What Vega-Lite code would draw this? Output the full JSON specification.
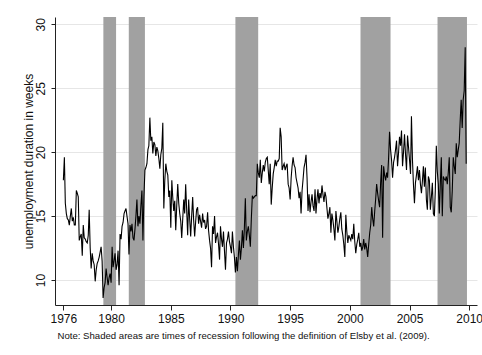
{
"$schema": "https://vega.github.io/schema/vega-lite/v6.json",
"width": 422, "height": 288,
"autosize": {"type": "none"},
"padding": {"left": 55, "top": 17, "right": 5, "bottom": 50},
"background": "white",
"config": {"view": {"stroke": null}, "font": "Liberation Sans"},
"datasets": {
"rec": [
{"s":"1979-05-09","e":"1980-06-01"},
{"s":"1981-06-25","e":"1982-11-01"},
{"s":"1990-06-01","e":"1992-04-28"},
{"s":"2000-11-23","e":"2003-05-31"},
{"s":"2007-05-08","e":"2009-10-25"}
],
"ue": [
{"d":"1976-01","v":17.8},{"d":"1976-02","v":19.6},{"d":"1976-03","v":16.0},{"d":"1976-04","v":15.2},{"d":"1976-05","v":14.8},{"d":"1976-06","v":14.7},{"d":"1976-07","v":14.3},{"d":"1976-08","v":15.0},{"d":"1976-09","v":15.6},{"d":"1976-10","v":14.6},{"d":"1976-11","v":14.9},{"d":"1976-12","v":14.3},
{"d":"1977-01","v":14.3},{"d":"1977-02","v":17.0},{"d":"1977-03","v":16.8},{"d":"1977-04","v":16.5},{"d":"1977-05","v":13.1},{"d":"1977-06","v":13.4},{"d":"1977-07","v":13.6},{"d":"1977-08","v":11.9},{"d":"1977-09","v":14.3},{"d":"1977-10","v":13.3},{"d":"1977-11","v":13.2},{"d":"1977-12","v":13.0},
{"d":"1978-01","v":12.9},{"d":"1978-02","v":13.5},{"d":"1978-03","v":15.5},{"d":"1978-04","v":12.5},{"d":"1978-05","v":10.9},{"d":"1978-06","v":12.1},{"d":"1978-07","v":11.5},{"d":"1978-08","v":11.2},{"d":"1978-09","v":9.9},{"d":"1978-10","v":10.8},{"d":"1978-11","v":11.3},{"d":"1978-12","v":11.5},
{"d":"1979-01","v":11.8},{"d":"1979-02","v":12.2},{"d":"1979-03","v":12.6},{"d":"1979-04","v":11.5},{"d":"1979-05","v":8.6},{"d":"1979-06","v":9.4},{"d":"1979-07","v":9.8},{"d":"1979-08","v":10.9},{"d":"1979-09","v":10.2},{"d":"1979-10","v":9.6},{"d":"1979-11","v":10.2},{"d":"1979-12","v":10.5},
{"d":"1980-01","v":9.8},{"d":"1980-02","v":12.6},{"d":"1980-03","v":11.0},{"d":"1980-04","v":11.5},{"d":"1980-05","v":12.1},{"d":"1980-06","v":10.8},{"d":"1980-07","v":11.2},{"d":"1980-08","v":12.3},{"d":"1980-09","v":9.6},{"d":"1980-10","v":13.6},{"d":"1980-11","v":13.2},{"d":"1980-12","v":14.2},
{"d":"1981-01","v":14.5},{"d":"1981-02","v":15.2},{"d":"1981-03","v":15.4},{"d":"1981-04","v":15.6},{"d":"1981-05","v":15.0},{"d":"1981-06","v":14.4},{"d":"1981-07","v":12.0},{"d":"1981-08","v":14.3},{"d":"1981-09","v":13.8},{"d":"1981-10","v":14.4},{"d":"1981-11","v":13.3},{"d":"1981-12","v":13.1},
{"d":"1982-01","v":14.0},{"d":"1982-02","v":15.1},{"d":"1982-03","v":16.3},{"d":"1982-04","v":14.2},{"d":"1982-05","v":15.0},{"d":"1982-06","v":14.4},{"d":"1982-07","v":15.8},{"d":"1982-08","v":17.0},{"d":"1982-09","v":13.1},{"d":"1982-10","v":16.5},{"d":"1982-11","v":18.6},{"d":"1982-12","v":18.8},
{"d":"1983-01","v":19.1},{"d":"1983-02","v":20.2},{"d":"1983-03","v":20.5},{"d":"1983-04","v":22.7},{"d":"1983-05","v":20.9},{"d":"1983-06","v":21.2},{"d":"1983-07","v":19.9},{"d":"1983-08","v":20.8},{"d":"1983-09","v":20.6},{"d":"1983-10","v":19.7},{"d":"1983-11","v":20.4},{"d":"1983-12","v":20.1},
{"d":"1984-01","v":19.5},{"d":"1984-02","v":18.7},{"d":"1984-03","v":19.8},{"d":"1984-04","v":20.3},{"d":"1984-05","v":22.3},{"d":"1984-06","v":15.6},{"d":"1984-07","v":17.8},{"d":"1984-08","v":19.1},{"d":"1984-09","v":18.5},{"d":"1984-10","v":18.2},{"d":"1984-11","v":16.5},{"d":"1984-12","v":17.0},
{"d":"1985-01","v":14.1},{"d":"1985-02","v":17.8},{"d":"1985-03","v":16.5},{"d":"1985-04","v":15.4},{"d":"1985-05","v":16.2},{"d":"1985-06","v":13.9},{"d":"1985-07","v":15.8},{"d":"1985-08","v":17.5},{"d":"1985-09","v":16.0},{"d":"1985-10","v":15.2},{"d":"1985-11","v":14.6},{"d":"1985-12","v":13.3},
{"d":"1986-01","v":14.8},{"d":"1986-02","v":16.3},{"d":"1986-03","v":15.2},{"d":"1986-04","v":17.5},{"d":"1986-05","v":15.5},{"d":"1986-06","v":13.5},{"d":"1986-07","v":16.3},{"d":"1986-08","v":14.8},{"d":"1986-09","v":13.4},{"d":"1986-10","v":15.0},{"d":"1986-11","v":16.5},{"d":"1986-12","v":14.7},
{"d":"1987-01","v":13.4},{"d":"1987-02","v":14.6},{"d":"1987-03","v":15.5},{"d":"1987-04","v":15.7},{"d":"1987-05","v":14.4},{"d":"1987-06","v":15.1},{"d":"1987-07","v":14.6},{"d":"1987-08","v":14.1},{"d":"1987-09","v":15.2},{"d":"1987-10","v":14.5},{"d":"1987-11","v":14.7},{"d":"1987-12","v":14.0},
{"d":"1988-01","v":14.2},{"d":"1988-02","v":15.3},{"d":"1988-03","v":13.9},{"d":"1988-04","v":13.1},{"d":"1988-05","v":12.5},{"d":"1988-06","v":11.0},{"d":"1988-07","v":14.2},{"d":"1988-08","v":13.6},{"d":"1988-09","v":15.0},{"d":"1988-10","v":12.9},{"d":"1988-11","v":13.4},{"d":"1988-12","v":13.7},
{"d":"1989-01","v":12.8},{"d":"1989-02","v":11.6},{"d":"1989-03","v":14.2},{"d":"1989-04","v":13.2},{"d":"1989-05","v":12.6},{"d":"1989-06","v":13.8},{"d":"1989-07","v":12.3},{"d":"1989-08","v":10.8},{"d":"1989-09","v":12.9},{"d":"1989-10","v":13.2},{"d":"1989-11","v":13.8},{"d":"1989-12","v":13.0},
{"d":"1990-01","v":12.6},{"d":"1990-02","v":12.1},{"d":"1990-03","v":13.8},{"d":"1990-04","v":12.6},{"d":"1990-05","v":11.8},{"d":"1990-06","v":10.6},{"d":"1990-07","v":11.8},{"d":"1990-08","v":10.7},{"d":"1990-09","v":12.0},{"d":"1990-10","v":13.1},{"d":"1990-11","v":11.6},{"d":"1990-12","v":12.5},
{"d":"1991-01","v":13.9},{"d":"1991-02","v":12.5},{"d":"1991-03","v":14.0},{"d":"1991-04","v":16.4},{"d":"1991-05","v":13.1},{"d":"1991-06","v":13.8},{"d":"1991-07","v":14.2},{"d":"1991-08","v":13.5},{"d":"1991-09","v":12.6},{"d":"1991-10","v":14.8},{"d":"1991-11","v":16.6},{"d":"1991-12","v":16.4},
{"d":"1992-01","v":16.5},{"d":"1992-02","v":16.6},{"d":"1992-03","v":16.6},{"d":"1992-04","v":19.1},{"d":"1992-05","v":18.4},{"d":"1992-06","v":18.0},{"d":"1992-07","v":19.4},{"d":"1992-08","v":17.6},{"d":"1992-09","v":18.4},{"d":"1992-10","v":19.0},{"d":"1992-11","v":18.5},{"d":"1992-12","v":19.2},
{"d":"1993-01","v":19.5},{"d":"1993-02","v":19.6},{"d":"1993-03","v":18.6},{"d":"1993-04","v":17.5},{"d":"1993-05","v":19.1},{"d":"1993-06","v":15.9},{"d":"1993-07","v":17.2},{"d":"1993-08","v":18.3},{"d":"1993-09","v":18.8},{"d":"1993-10","v":19.4},{"d":"1993-11","v":18.9},{"d":"1993-12","v":19.3},
{"d":"1994-01","v":19.3},{"d":"1994-02","v":19.5},{"d":"1994-03","v":21.9},{"d":"1994-04","v":21.2},{"d":"1994-05","v":18.6},{"d":"1994-06","v":18.9},{"d":"1994-07","v":19.1},{"d":"1994-08","v":18.6},{"d":"1994-09","v":18.9},{"d":"1994-10","v":19.1},{"d":"1994-11","v":17.5},{"d":"1994-12","v":17.2},
{"d":"1995-01","v":16.3},{"d":"1995-02","v":18.0},{"d":"1995-03","v":18.9},{"d":"1995-04","v":19.6},{"d":"1995-05","v":19.0},{"d":"1995-06","v":18.8},{"d":"1995-07","v":18.0},{"d":"1995-08","v":17.6},{"d":"1995-09","v":17.2},{"d":"1995-10","v":16.4},{"d":"1995-11","v":16.9},{"d":"1995-12","v":15.2},
{"d":"1996-01","v":17.0},{"d":"1996-02","v":17.9},{"d":"1996-03","v":18.8},{"d":"1996-04","v":19.2},{"d":"1996-05","v":19.8},{"d":"1996-06","v":18.0},{"d":"1996-07","v":15.4},{"d":"1996-08","v":16.7},{"d":"1996-09","v":15.3},{"d":"1996-10","v":16.1},{"d":"1996-11","v":16.7},{"d":"1996-12","v":15.8},
{"d":"1997-01","v":15.4},{"d":"1997-02","v":17.1},{"d":"1997-03","v":15.2},{"d":"1997-04","v":16.3},{"d":"1997-05","v":17.1},{"d":"1997-06","v":16.0},{"d":"1997-07","v":16.8},{"d":"1997-08","v":16.4},{"d":"1997-09","v":17.4},{"d":"1997-10","v":16.7},{"d":"1997-11","v":16.1},{"d":"1997-12","v":16.9},
{"d":"1998-01","v":16.5},{"d":"1998-02","v":15.6},{"d":"1998-03","v":14.8},{"d":"1998-04","v":15.2},{"d":"1998-05","v":15.7},{"d":"1998-06","v":13.7},{"d":"1998-07","v":15.2},{"d":"1998-08","v":14.7},{"d":"1998-09","v":14.0},{"d":"1998-10","v":13.1},{"d":"1998-11","v":15.4},{"d":"1998-12","v":14.6},
{"d":"1999-01","v":13.7},{"d":"1999-02","v":14.2},{"d":"1999-03","v":14.8},{"d":"1999-04","v":15.3},{"d":"1999-05","v":14.0},{"d":"1999-06","v":13.5},{"d":"1999-07","v":12.8},{"d":"1999-08","v":11.8},{"d":"1999-09","v":15.1},{"d":"1999-10","v":13.8},{"d":"1999-11","v":12.9},{"d":"1999-12","v":13.5},
{"d":"2000-01","v":13.3},{"d":"2000-02","v":13.1},{"d":"2000-03","v":13.6},{"d":"2000-04","v":13.2},{"d":"2000-05","v":14.4},{"d":"2000-06","v":13.0},{"d":"2000-07","v":12.1},{"d":"2000-08","v":12.8},{"d":"2000-09","v":13.2},{"d":"2000-10","v":13.7},{"d":"2000-11","v":12.6},{"d":"2000-12","v":12.9},
{"d":"2001-01","v":12.3},{"d":"2001-02","v":12.6},{"d":"2001-03","v":13.2},{"d":"2001-04","v":12.4},{"d":"2001-05","v":12.9},{"d":"2001-06","v":12.5},{"d":"2001-07","v":11.8},{"d":"2001-08","v":12.8},{"d":"2001-09","v":13.7},{"d":"2001-10","v":14.3},{"d":"2001-11","v":15.7},{"d":"2001-12","v":14.8},
{"d":"2002-01","v":14.2},{"d":"2002-02","v":15.4},{"d":"2002-03","v":16.3},{"d":"2002-04","v":17.5},{"d":"2002-05","v":16.8},{"d":"2002-06","v":16.2},{"d":"2002-07","v":15.7},{"d":"2002-08","v":17.6},{"d":"2002-09","v":19.0},{"d":"2002-10","v":13.3},{"d":"2002-11","v":18.9},{"d":"2002-12","v":18.2},
{"d":"2003-01","v":17.8},{"d":"2003-02","v":18.4},{"d":"2003-03","v":18.0},{"d":"2003-04","v":19.5},{"d":"2003-05","v":21.6},{"d":"2003-06","v":20.2},{"d":"2003-07","v":19.4},{"d":"2003-08","v":18.0},{"d":"2003-09","v":19.2},{"d":"2003-10","v":19.6},{"d":"2003-11","v":20.2},{"d":"2003-12","v":20.9},
{"d":"2004-01","v":18.9},{"d":"2004-02","v":20.0},{"d":"2004-03","v":21.2},{"d":"2004-04","v":20.5},{"d":"2004-05","v":21.7},{"d":"2004-06","v":18.9},{"d":"2004-07","v":20.0},{"d":"2004-08","v":21.4},{"d":"2004-09","v":19.8},{"d":"2004-10","v":18.6},{"d":"2004-11","v":21.3},{"d":"2004-12","v":20.4},
{"d":"2005-01","v":19.4},{"d":"2005-02","v":18.3},{"d":"2005-03","v":22.8},{"d":"2005-04","v":19.4},{"d":"2005-05","v":17.5},{"d":"2005-06","v":16.0},{"d":"2005-07","v":17.6},{"d":"2005-08","v":18.2},{"d":"2005-09","v":18.9},{"d":"2005-10","v":17.8},{"d":"2005-11","v":18.6},{"d":"2005-12","v":17.5},
{"d":"2006-01","v":16.8},{"d":"2006-02","v":17.8},{"d":"2006-03","v":18.9},{"d":"2006-04","v":17.3},{"d":"2006-05","v":18.8},{"d":"2006-06","v":16.3},{"d":"2006-07","v":15.5},{"d":"2006-08","v":18.1},{"d":"2006-09","v":17.8},{"d":"2006-10","v":15.5},{"d":"2006-11","v":16.5},{"d":"2006-12","v":17.6},
{"d":"2007-01","v":15.2},{"d":"2007-02","v":15.0},{"d":"2007-03","v":17.0},{"d":"2007-04","v":20.5},{"d":"2007-05","v":18.5},{"d":"2007-06","v":17.5},{"d":"2007-07","v":15.2},{"d":"2007-08","v":17.5},{"d":"2007-09","v":19.6},{"d":"2007-10","v":15.0},{"d":"2007-11","v":18.1},{"d":"2007-12","v":17.9},
{"d":"2008-01","v":17.8},{"d":"2008-02","v":18.1},{"d":"2008-03","v":17.5},{"d":"2008-04","v":18.4},{"d":"2008-05","v":19.6},{"d":"2008-06","v":15.7},{"d":"2008-07","v":15.3},{"d":"2008-08","v":17.0},{"d":"2008-09","v":19.6},{"d":"2008-10","v":18.9},{"d":"2008-11","v":18.3},{"d":"2008-12","v":20.7},
{"d":"2009-01","v":19.6},{"d":"2009-02","v":20.2},{"d":"2009-03","v":20.7},{"d":"2009-04","v":22.5},{"d":"2009-05","v":24.1},{"d":"2009-06","v":21.9},{"d":"2009-07","v":24.1},{"d":"2009-08","v":24.8},{"d":"2009-09","v":28.2},{"d":"2009-10","v":19.1}
]
},
"layer": [
{
"data": {"name": "rec"},
"mark": {"type": "rect", "color": "#a1a1a1"},
"encoding": {
"x": {"field": "s", "type": "temporal", "scale": {"type": "utc", "domain": [{"year":1975,"month":4,"date":20,"utc":true},{"year":2010,"month":8,"date":28,"utc":true}]}},
"x2": {"field": "e"}
}
},
{
"data": {"name": "ue"},
"mark": {"type": "line", "color": "black", "strokeWidth": 1.1},
"encoding": {
"x": {"field": "d", "type": "temporal",
"scale": {"type": "utc", "domain": [{"year":1975,"month":4,"date":20,"utc":true},{"year":2010,"month":8,"date":28,"utc":true}]},
"axis": {"values": [{"year":1976,"utc":true},{"year":1980,"utc":true},{"year":1985,"utc":true},{"year":1990,"utc":true},{"year":1995,"utc":true},{"year":2000,"utc":true},{"year":2005,"utc":true},{"year":2010,"utc":true}],
"format": "%Y", "grid": false, "zindex": 1, "tickSize": 5, "labelPadding": 3, "labelFontSize": 12, "labelColor": "#111", "labelFlush": false, "labelOverlap": false,
"domainColor": "#222", "tickColor": "#222",
"title": "Note: Shaded areas are times of recession following the definition of Elsby et al. (2009).",
"titleFontSize": 9.6, "titleFontWeight": "normal", "titleColor": "#111", "titleX": 2, "titleY": 33, "titleAlign": "left", "titleBaseline": "alphabetic"}},
"y": {"field": "v", "type": "quantitative",
"scale": {"domain": [8.05, 30.57], "nice": false, "zero": false},
"axis": {"values": [10, 15, 20, 25, 30], "grid": true, "gridColor": "#e6e6e6", "tickSize": 4, "labelPadding": 4, "labelAngle": -90, "labelAlign": "center", "labelBaseline": "bottom", "labelFontSize": 12, "labelColor": "#111",
"domainColor": "#222", "tickColor": "#222",
"title": "unemployment duration in weeks", "titleFontSize": 12, "titleFontWeight": "normal", "titleColor": "#111",
"titleX": -27, "titleY": 144, "titleAngle": 270, "titleAlign": "center", "titleBaseline": "middle"}}
}
}
]
}
